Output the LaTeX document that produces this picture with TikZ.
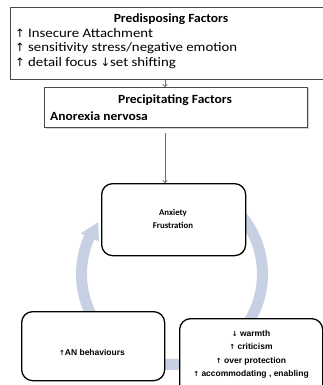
\documentclass[tikz,border=0pt]{standalone}
\usepackage{fontspec}
\setmainfont{Carlito}
\newfontfamily\widereg{Carlito}[FakeStretch=1.14]
\newfontfamily\widebold{Carlito Bold}[FakeStretch=1.08]
\newfontfamily\dv{DejaVu Sans}
\newfontfamily\ars{Liberation Sans}
\usetikzlibrary{arrows.meta}
\definecolor{cyc}{HTML}{C8D0E4}
\definecolor{edgegray}{HTML}{4A4A4A}
\tikzset{
  fbox/.style={draw=edgegray, line width=0.9pt, fill=white, inner sep=0pt, anchor=north west},
  cbox/.style={draw=black, line width=1.3pt, rounded corners=11pt, fill=white,
    inner sep=0pt, anchor=north west},
  ttl/.style={font=\widebold\fontsize{12.5}{15}\selectfont, inner sep=0pt, anchor=base},
  ln/.style={font=\widereg\fontsize{13}{15}\selectfont, inner sep=0pt, anchor=base west},
  sm/.style={font=\fontsize{8.8}{10}\selectfont\bfseries, inner sep=0pt, anchor=base},
  smr/.style={font=\ars\fontsize{8.5}{10}\selectfont\bfseries, inner sep=0pt, anchor=base},
  conn/.style={draw=gray!80!black, line width=0.7pt, -{To[length=3pt,width=5pt]}},
}
\newcommand{\upa}{{\dv\fontsize{11.5}{15}\selectfont ↑}}
\newcommand{\dna}{{\dv\fontsize{11.5}{15}\selectfont ↓}}
\newcommand{\sua}{{\dv\fontsize{7}{10}\selectfont ↑}}
\newcommand{\sda}{{\dv\fontsize{7}{10}\selectfont ↓}}
\begin{document}
\begin{tikzpicture}[x=1pt,y=-1pt]
\useasboundingbox (0,0) rectangle (323,385);
\clip (0,0) rectangle (323,385);
% cycle arc (behind boxes)
\begin{scope}[shift={(172,274)}]
\fill[cyc] (-50:96) arc[start angle=-50, end angle=204, radius=96]
  -- (204:100) -- (215:90) -- (204:80) -- (204:85)
  arc[start angle=204, end angle=-50, radius=85] -- cycle;
\end{scope}
% top boxes
\fill[gray!35] (11.5,8.5) rectangle (326,80.5);
\node[fbox, minimum width=316pt, minimum height=72pt] (pre) at (10,7) {};
\fill[gray!35] (45.5,88.5) rectangle (308.5,128.5);
\node[fbox, minimum width=263pt, minimum height=40pt] (prec) at (44,87) {};
\node[ttl] (pret) at (171,23) {Predisposing Factors};
\node[ln] (p1) at (15,37.5) {\upa\ Insecure Attachment};
\node[ln] (p2) at (15,52) {\upa\ sensitivity stress/negative emotion};
\node[ln] (p3) at (15,66.5) {\upa\ detail focus \dna set shifting};
\node[ttl] (prect) at (175,104) {Precipitating Factors};
\node[ttl, anchor=base west] (an) at (50,120.5) {Anorexia nervosa};
% cycle boxes
\node[cbox, minimum width=144pt, minimum height=72pt] (anx) at (101,183) {};
\node[sm] (anx1) at (173,215) {Anxiety};
\node[sm] (anx2) at (173,228.5) {Frustration};
\node[cbox, minimum width=143pt, minimum height=69pt] (beh) at (21,311) {};
\node[smr] (beh1) at (92,355) {\sua AN behaviours};
\node[cbox, minimum width=143pt, minimum height=80pt] (par) at (179,318) {};
\node[smr] (par1) at (251,336) {\sda\ warmth};
\node[smr] (par2) at (251,349.5) {\sua\ criticism};
\node[smr] (par3) at (251,363) {\sua\ over protection};
\node[smr] (par4) at (251,376.5) {\sua\ accommodating , enabling};
% connectors
\coordinate (col) at (165,0);
\draw[conn] (pre.south -| col) -- (prec.north -| col);
\draw[conn, shorten <=5pt] (prec.south -| col) -- (anx.north -| col);
\end{tikzpicture}
\end{document}
